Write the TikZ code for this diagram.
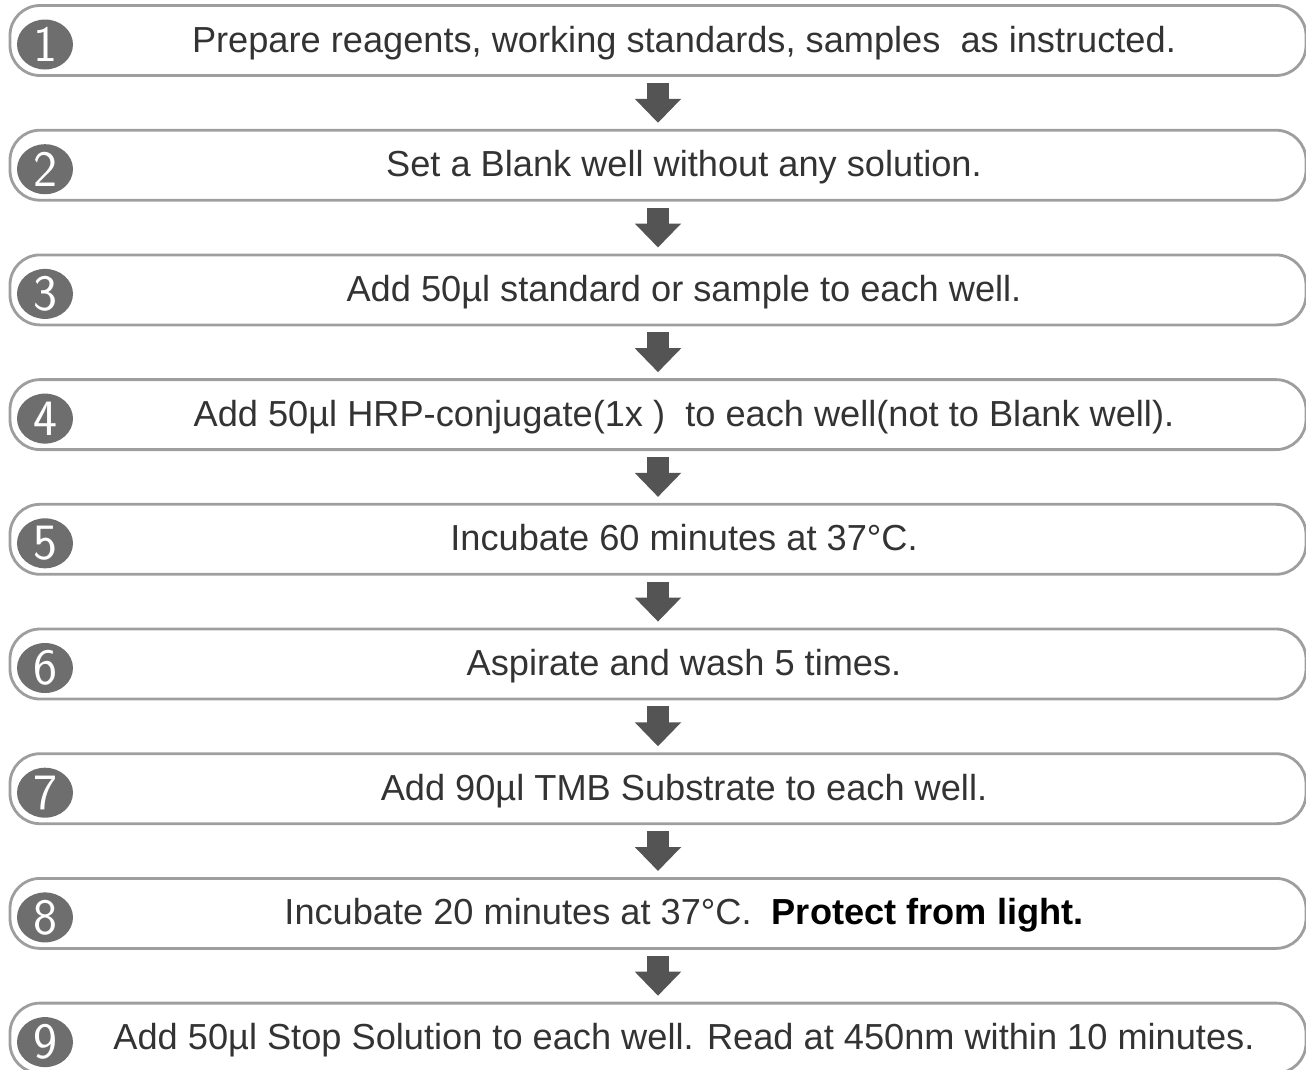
\documentclass[tikz,border=0pt]{standalone}
\usepackage{fontspec}
\setmainfont{Liberation Sans}
\usetikzlibrary{arrows.meta,shapes.geometric}

\definecolor{boxgray}{HTML}{9E9E9E}
\definecolor{numgray}{HTML}{6E6E6E}
\definecolor{arrowgray}{HTML}{545454}
\definecolor{textgray}{HTML}{333333}

\begin{document}
\begin{tikzpicture}[
  stepbox/.style={draw=boxgray, line width=1.6pt, rounded corners=0.6cm, minimum width=25.92cm, minimum height=1.4cm},
  stepnum/.style={ellipse, fill=numgray, minimum width=1.12cm, minimum height=1.0cm, inner sep=0pt, text=white, font=\sffamily\fontsize{29}{29}\selectfont},
  steptext/.style={anchor=base, text=textgray, inner sep=0pt, font=\fontsize{20.6}{24}\selectfont},
  steparrow/.style={draw=arrowgray, line width=0.44cm, -{Triangle[length=0.48cm,width=0.9cm]}, shorten <=0.12cm, shorten >=0.12cm}
]
\useasboundingbox (0,0) rectangle (26.12,-21.38);

\node[stepbox] (b1) at (13.16,-0.81) {};
\node[stepbox] (b2) at (13.16,-3.304) {};
\node[stepbox] (b3) at (13.16,-5.798) {};
\node[stepbox] (b4) at (13.16,-8.292) {};
\node[stepbox] (b5) at (13.16,-10.786) {};
\node[stepbox] (b6) at (13.16,-13.28) {};
\node[stepbox] (b7) at (13.16,-15.774) {};
\node[stepbox] (b8) at (13.16,-18.268) {};
\node[stepbox] (b9) at (13.16,-20.762) {};

\node[stepnum] (n1) at (0.9,-0.89) {1};
\node[stepnum] (n2) at (0.9,-3.384) {2};
\node[stepnum] (n3) at (0.9,-5.878) {3};
\node[stepnum] (n4) at (0.9,-8.372) {4};
\node[stepnum] (n5) at (0.9,-10.866) {5};
\node[stepnum] (n6) at (0.9,-13.36) {6};
\node[stepnum] (n7) at (0.9,-15.854) {7};
\node[stepnum] (n8) at (0.9,-18.348) {8};
\node[stepnum] (n9) at (0.9,-20.842) {9};

\node[steptext] (t1) at (13.68,-1.04) {Prepare reagents, working standards, samples\ \ as instructed.};
\node[steptext] (t2) at (13.68,-3.534) {Set a Blank well without any solution.};
\node[steptext] (t3) at (13.68,-6.028) {Add 50µl standard or sample to each well.};
\node[steptext] (t4) at (13.68,-8.522) {Add 50µl HRP-conjugate(1x )\ \ to each well(not to Blank well).};
\node[steptext] (t5) at (13.68,-11.016) {Incubate 60 minutes at 37°C.};
\node[steptext] (t6) at (13.68,-13.51) {Aspirate and wash 5 times.};
\node[steptext] (t7) at (13.68,-16.004) {Add 90µl TMB Substrate to each well.};
\node[steptext] (t8) at (13.68,-18.498) {Incubate 20 minutes at 37°C.\ \ {\bfseries\color{black} Protect from light.}};
\node[steptext] (t9) at (13.68,-20.992) {Add 50µl Stop Solution to each well. Read at 450nm within 10 minutes.};

\draw[steparrow] (b1) -- (b2);
\draw[steparrow] (b2) -- (b3);
\draw[steparrow] (b3) -- (b4);
\draw[steparrow] (b4) -- (b5);
\draw[steparrow] (b5) -- (b6);
\draw[steparrow] (b6) -- (b7);
\draw[steparrow] (b7) -- (b8);
\draw[steparrow] (b8) -- (b9);

\end{tikzpicture}
\end{document}
